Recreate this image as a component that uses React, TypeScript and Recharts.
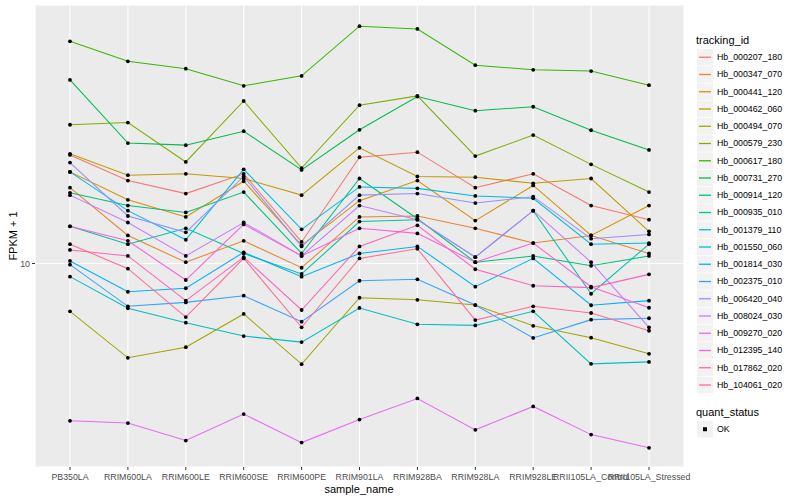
import React from 'react';
import { LineChart, Line, XAxis, YAxis, CartesianGrid } from 'recharts';

const samples = [
  'PB350LA',
  'RRIM600LA',
  'RRIM600LE',
  'RRIM600SE',
  'RRIM600PE',
  'RRIM901LA',
  'RRIM928BA',
  'RRIM928LA',
  'RRIM928LE',
  'RRII105LA_Control',
  'RRII105LA_Stressed',
];

// FPKM + 1, one value per sample
const hb_000207_180 = [23.0, 18.9, 17.1, 19.9, 11.8, 22.6, 23.5, 17.9, 19.9, 15.6, 14.0];
const hb_000347_070 = [17.9, 12.4, 10.1, 11.9, 9.68, 14.3, 14.4, 13.1, 11.7, 12.4, 10.8];
const hb_000441_120 = [20.2, 16.3, 14.3, 18.8, 11.5, 16.2, 18.9, 13.9, 18.2, 12.4, 15.6];
const hb_000462_060 = [23.2, 19.7, 19.9, 19.2, 16.9, 24.3, 19.5, 19.4, 18.5, 19.2, 12.8];
const hb_000494_070 = [6.93, 4.85, 5.26, 6.79, 4.62, 7.69, 7.57, 7.27, 6.2, 5.66, 5.0];
const hb_000579_230 = [29.0, 29.5, 21.8, 34.8, 20.8, 33.7, 36.2, 22.8, 26.8, 21.4, 17.3];
const hb_000617_180 = [55.0, 47.2, 44.6, 39.1, 42.2, 61.8, 60.5, 45.8, 44.2, 43.8, 39.3];
const hb_000731_270 = [40.9, 25.2, 24.8, 27.6, 20.5, 27.9, 36.0, 32.3, 33.3, 27.8, 23.9];
const hb_000914_120 = [17.2, 15.6, 14.8, 17.3, 10.8, 19.2, 14.1, 10.1, 10.6, 9.83, 10.6];
const hb_000935_010 = [13.3, 11.6, 13.1, 10.8, 9.23, 13.8, 14.0, 10.5, 15.0, 7.93, 11.6];
const hb_001379_110 = [9.04, 7.09, 6.35, 5.73, 5.47, 7.11, 6.27, 6.22, 6.93, 4.63, 4.7];
const hb_001550_060 = [20.2, 15.0, 12.0, 20.6, 13.0, 18.0, 17.8, 16.8, 16.5, 11.6, 11.7];
const hb_001814_030 = [10.2, 8.05, 8.27, 10.9, 9.04, 10.8, 11.4, 8.37, 10.4, 7.26, 7.52];
const hb_002375_010 = [9.91, 7.2, 7.42, 7.81, 6.4, 8.76, 8.86, 7.27, 5.65, 6.5, 6.57];
const hb_006420_040 = [21.7, 14.4, 12.7, 19.5, 11.4, 16.9, 17.1, 15.9, 16.7, 12.1, 12.5];
const hb_008024_030 = [16.9, 13.7, 10.6, 13.7, 10.6, 15.6, 14.0, 10.5, 15.0, 10.1, 6.13];
const hb_009270_020 = [2.99, 2.94, 2.57, 3.15, 2.53, 3.02, 3.55, 2.79, 3.34, 2.69, 2.43];
const hb_012395_140 = [13.3, 11.9, 8.81, 13.5, 10.6, 13.1, 12.6, 10.1, 11.7, 8.37, 7.12];
const hb_017862_020 = [11.1, 10.6, 7.52, 10.5, 7.0, 11.4, 13.4, 9.57, 8.43, 8.31, 9.2];
const hb_104061_020 = [11.6, 9.61, 6.63, 10.4, 6.13, 10.4, 11.2, 6.48, 7.2, 6.84, 5.97];

const trackingIds = [
  'Hb_000207_180',
  'Hb_000347_070',
  'Hb_000441_120',
  'Hb_000462_060',
  'Hb_000494_070',
  'Hb_000579_230',
  'Hb_000617_180',
  'Hb_000731_270',
  'Hb_000914_120',
  'Hb_000935_010',
  'Hb_001379_110',
  'Hb_001550_060',
  'Hb_001814_030',
  'Hb_002375_010',
  'Hb_006420_040',
  'Hb_008024_030',
  'Hb_009270_020',
  'Hb_012395_140',
  'Hb_017862_020',
  'Hb_104061_020',
];

const seriesValues = [
  hb_000207_180, hb_000347_070, hb_000441_120, hb_000462_060, hb_000494_070,
  hb_000579_230, hb_000617_180, hb_000731_270, hb_000914_120, hb_000935_010,
  hb_001379_110, hb_001550_060, hb_001814_030, hb_002375_010, hb_006420_040,
  hb_008024_030, hb_009270_020, hb_012395_140, hb_017862_020, hb_104061_020,
];

// ggplot default hue palette for 20 groups
const colors = [
  '#F8766D', '#EA8331', '#D89000', '#C09B00', '#A3A500',
  '#7CAE00', '#39B600', '#00BB4E', '#00BF7D', '#00C1A3',
  '#00BFC4', '#00BAE0', '#00B0F6', '#35A2FF', '#9590FF',
  '#C77CFF', '#E76BF3', '#FA62DB', '#FF62BC', '#FF6C91',
];

const yTicks = [10];

const data = samples.map((s, i) => {
  const row: Record<string, string | number> = { sample_name: s };
  trackingIds.forEach((id, k) => {
    row[id] = seriesValues[k][i];
  });
  return row;
});

const font = '"Liberation Sans", Arial, Helvetica, sans-serif';

const BlackDot = (props: any) => {
  const { cx, cy, index } = props;
  if (cx == null || cy == null) return <g key={index} />;
  return <circle key={index} cx={cx} cy={cy} r={1.9} fill="#000" />;
};

const KEY_TOP = 49;
const KEY_STEP = 17.25;

export default function App() {
  return (
    <div
      style={{
        position: 'absolute',
        left: 0,
        top: 0,
        width: 800,
        height: 500,
        background: '#fff',
        fontFamily: font,
      }}
    >
      <LineChart
        width={800}
        height={500}
        data={data}
        margin={{ top: 5, right: 116, bottom: 0, left: 0 }}
      >
        <CartesianGrid fill="#EBEBEB" stroke="#FFFFFF" strokeWidth={1.1} />
        <XAxis
          dataKey="sample_name"
          type="category"
          scale="point"
          padding={{ left: 35, right: 35 }}
          height={33}
          interval={0}
          axisLine={false}
          tickLine={{ stroke: '#333333' }}
          tickSize={3}
          tickMargin={4}
          tick={{ fill: '#4D4D4D', fontSize: 8.8, fontFamily: font }}
        />
        <YAxis
          type="number"
          scale="log"
          domain={[2.098, 72.7]}
          allowDataOverflow
          ticks={yTicks}
          width={35}
          axisLine={false}
          tickLine={{ stroke: '#333333' }}
          tickSize={3}
          tickMargin={2}
          tick={{ fill: '#4D4D4D', fontSize: 8.8, fontFamily: font }}
        />
        {trackingIds.map((id, k) => (
          <Line
            key={id}
            type="linear"
            dataKey={id}
            stroke={colors[k]}
            strokeWidth={1.05}
            dot={false}
            activeDot={false}
            isAnimationActive={false}
          />
        ))}
        {trackingIds.map((id) => (
          <Line
            key={id + '_pts'}
            type="linear"
            dataKey={id}
            stroke="none"
            dot={BlackDot}
            activeDot={false}
            legendType="none"
            isAnimationActive={false}
          />
        ))}
      </LineChart>

      {/* axis titles */}
      <div
        style={{
          position: 'absolute',
          left: 13,
          top: 236,
          transform: 'translate(-50%, -50%) rotate(-90deg)',
          fontSize: 11,
          color: '#000',
          whiteSpace: 'nowrap',
        }}
      >
        FPKM + 1
      </div>
      <div
        style={{
          position: 'absolute',
          left: 359,
          top: 489,
          transform: 'translate(-50%, -50%)',
          fontSize: 11,
          color: '#000',
          whiteSpace: 'nowrap',
        }}
      >
        sample_name
      </div>

      {/* legend: tracking_id */}
      <div
        style={{
          position: 'absolute',
          left: 696,
          top: 33,
          fontSize: 11,
          lineHeight: '14px',
          color: '#000',
        }}
      >
        tracking_id
      </div>
      <svg
        width={20}
        height={360}
        style={{ position: 'absolute', left: 697, top: KEY_TOP }}
      >
        {trackingIds.map((id, k) => (
          <g key={id}>
            <rect x={0} y={k * KEY_STEP} width={16} height={16.5} fill="#F2F2F2" />
            <line
              x1={2}
              x2={14}
              y1={k * KEY_STEP + 8.25}
              y2={k * KEY_STEP + 8.25}
              stroke={colors[k]}
              strokeWidth={1.3}
            />
          </g>
        ))}
      </svg>
      {trackingIds.map((id, k) => (
        <div
          key={id}
          style={{
            position: 'absolute',
            left: 717,
            top: KEY_TOP + k * KEY_STEP,
            height: 16.5,
            lineHeight: '16.5px',
            fontSize: 8.8,
            color: '#000',
            whiteSpace: 'nowrap',
          }}
        >
          {id}
        </div>
      ))}

      {/* legend: quant_status */}
      <div
        style={{
          position: 'absolute',
          left: 696,
          top: 405,
          fontSize: 11,
          lineHeight: '14px',
          color: '#000',
        }}
      >
        quant_status
      </div>
      <svg width={20} height={18} style={{ position: 'absolute', left: 697, top: 421 }}>
        <rect x={0} y={0} width={16} height={16.5} fill="#F2F2F2" />
        <rect x={6} y={6.25} width={4} height={4} fill="#000" />
      </svg>
      <div
        style={{
          position: 'absolute',
          left: 717,
          top: 421,
          height: 16.5,
          lineHeight: '16.5px',
          fontSize: 8.8,
          color: '#000',
        }}
      >
        OK
      </div>
    </div>
  );
}
